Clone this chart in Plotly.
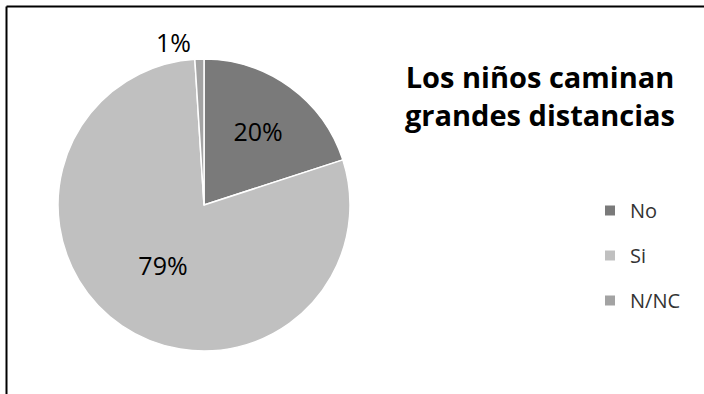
import plotly.graph_objects as go

categories = ["No", "Si", "N/NC"]
values = [20, 79, 1]
colors = ["#7a7a7a", "#c0c0c0", "#a3a3a3"]
text_positions = ["inside", "inside", "outside"]
title_text = "Los niños caminan<br>grandes distancias"

fig = go.Figure()
fig.add_trace(go.Pie(
    labels=categories,
    values=values,
    sort=False,
    direction="clockwise",
    rotation=0,
    marker=dict(colors=colors, line=dict(color="white", width=1.5)),
    texttemplate="%{percent:.0%}",
    textposition=text_positions,
    insidetextorientation="horizontal",
    textfont=dict(family="Open Sans", size=25, color="black"),
    showlegend=False,
    domain=dict(x=[58/704, 350/704], y=[43/394, 335/394]),
    hoverinfo="label+percent",
))

# legend entries (one group each so spacing can match)
for cat, col in zip(categories, colors):
    fig.add_trace(go.Scatter(
        x=[None], y=[None], mode="markers", name=cat,
        marker=dict(symbol="square", size=10, color=col),
        legendgroup=cat, showlegend=True,
    ))

fig.update_layout(
    width=704, height=394,
    margin=dict(l=0, r=0, t=0, b=0),
    paper_bgcolor="white", plot_bgcolor="white",
    xaxis=dict(visible=False), yaxis=dict(visible=False),
    title=dict(text="<b>" + title_text + "</b>", x=540/704, xanchor="center",
               y=1 - 88/394, yanchor="top",
               font=dict(family="Open Sans", size=29, color="black")),
    legend=dict(x=590/704, y=1 - 191/394, xanchor="left", yanchor="top",
                font=dict(family="Open Sans", size=20, color="#333333"),
                tracegroupgap=16, itemwidth=30, bgcolor="rgba(0,0,0,0)"),
    shapes=[
        dict(type="line", xref="paper", yref="paper", x0=6.5/704, x1=1.02, y0=1 - 6.5/394, y1=1 - 6.5/394,
             line=dict(color="black", width=2)),
        dict(type="line", xref="paper", yref="paper", x0=6.5/704, x1=6.5/704, y0=1 - 6.5/394, y1=-0.02,
             line=dict(color="black", width=2)),
    ],
)

fig.write_html("out.html", config={"displayModeBar": False},
               post_script="document.body.style.margin='0px';")
